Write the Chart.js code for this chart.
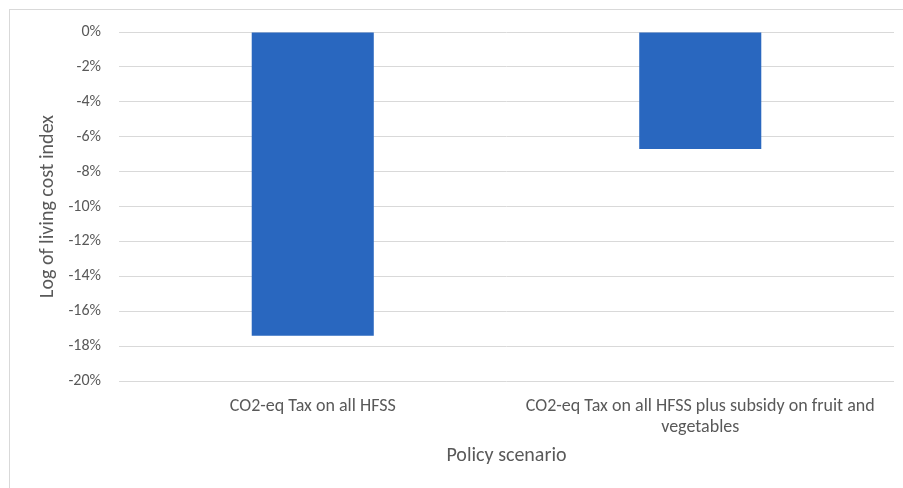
<!DOCTYPE html>
<html>
<head>
<meta charset="utf-8">
<script src="https://cdn.jsdelivr.net/npm/chart.js@4/dist/chart.umd.min.js"></script>
<style>
  body { margin: 0; background: #fff; }
  #frame { position: absolute; left: 9px; top: 9px; width: 900px; height: 490px;
           border-left: 1px solid #d9d9d9; border-top: 1px solid #d9d9d9; }
  #wrap { position: absolute; left: 0; top: 0; width: 903px; height: 488px; }
</style>
</head>
<body>
<div id="frame"></div>
<div id="wrap"><canvas id="grafica"></canvas></div>
<script>
// datos del grafico
const categorias = [
  'CO2-eq Tax on all HFSS',
  ['CO2-eq Tax on all HFSS plus subsidy on fruit and', 'vegetables']
];
const valores = [-17.4, -6.7];
const ejeY = { min: -20, max: 0, paso: 2 };

const fuente = "Calibri, Carlito, 'Open Sans', sans-serif";
const gris = '#595959';

const ctx = document.getElementById('grafica').getContext('2d');
window.grafica_ = new Chart(ctx, {
  type: 'bar',
  data: {
    labels: categorias,
    datasets: [{
      label: 'Log of living cost index',
      data: valores,
      backgroundColor: '#2967BF',
      borderWidth: 0,
      categoryPercentage: 1,
      barPercentage: 0.315
    }]
  },
  options: {
    responsive: true,
    maintainAspectRatio: false,
    animation: false,
    layout: { padding: { left: 30, top: 32, right: 9, bottom: 20 } },
    plugins: { legend: { display: false }, tooltip: { enabled: false } },
    scales: {
      x: {
        grid: { display: false, drawTicks: false },
        border: { display: false },
        ticks: { color: gris, font: { family: fuente, size: 18, lineHeight: 1.17 }, padding: 14.5, maxRotation: 0, autoSkip: false },
        title: { display: true, text: 'Policy scenario', color: gris, font: { family: fuente, size: 20 }, padding: { top: 4, bottom: 0 } },
        afterFit: function(scale) { scale.height = 87; }
      },
      y: {
        min: ejeY.min,
        max: ejeY.max,
        grid: { color: '#d9d9d9', drawTicks: false, lineWidth: 1 },
        border: { display: false },
        ticks: {
          stepSize: ejeY.paso,
          color: gris,
          padding: 18,
          font: { family: fuente, size: 16 },
          callback: function(v) { return v + '%'; }
        },
        title: { display: true, text: 'Log of living cost index', color: gris, font: { family: fuente, size: 20 }, padding: { top: 6, bottom: 0 } },
        afterFit: function(scale) { scale.width = 89; }
      }
    }
  }
});
</script>
</body>
</html>
